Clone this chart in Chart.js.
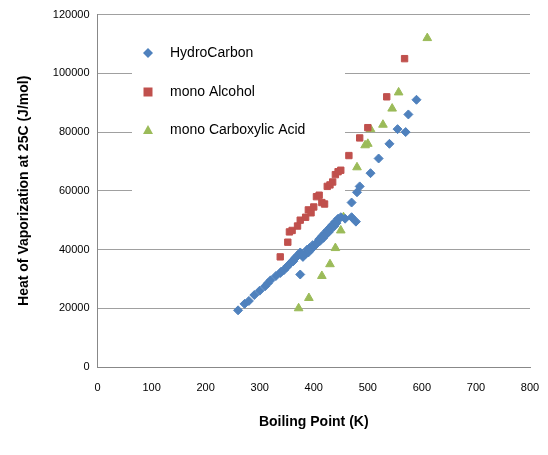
<!DOCTYPE html>
<html lang="en">
<head>
<meta charset="UTF-8">
<title>Heat of Vaporization</title>
<script src="https://cdn.jsdelivr.net/npm/chart.js@4"></script>
<style>
  body { margin: 0; background: #fff; }
  #wrap { width: 548px; height: 455px; }
</style>
</head>
<body>
<div id="wrap"><canvas id="myChart" width="548" height="455"></canvas></div>
<script>
    // boiling point (K) vs heat of vaporization (J/mol)
    const hydroBp = [260,272,280,290,300,310,315,320,330,338,345,350,355,360,365,370,375,380,385,390,395,400,403,407,410,415,420,425,430,435,440,445,450,458,470,478,375,470,480,485,505,520,540,555,570,575,590,
                     340,352,362,368,378,388,392,398,405,412,418,422,428,432,438,442];
    const hydroHv = [19300,21500,22500,24500,26000,27500,28500,29500,31000,32000,33000,34000,35000,36000,37000,38000,39000,37500,38500,39000,40000,41000,41500,42500,43500,44500,45500,46500,47500,48500,49500,50500,51000,50500,51000,49500,31500,56000,59500,61500,66000,71000,76000,81000,80000,86000,91000,
                     32500,34500,36000,37500,38500,40000,40500,41500,42000,43000,44000,45000,46000,47000,48000,49000];
    const alcBp = [338,352,355,360,370,375,385,390,395,400,405,410,415,420,425,430,435,440,445,450,465,485,500,535,568];
    const alcHv = [37500,42500,46000,46500,48000,50000,51000,53500,52500,54500,58000,58500,56000,55500,61500,62000,63000,65500,66500,67000,72000,78000,81500,92000,105000];
    const acidBp = [372,391,415,430,440,450,455,480,495,500,505,528,545,557,610];
    const acidHv = [20000,23500,31000,35000,40500,46500,51000,68000,75500,76000,81000,82500,88000,93500,112000];

    const toPts = (xs, ys) => xs.map((x, i) => ({ x: x, y: ys[i] }));

    const legendBox = {
        id: 'legendBox',
        beforeDatasetsDraw(chart) {
            const ctx = chart.ctx;
            ctx.save();
            ctx.fillStyle = '#fff';
            ctx.fillRect(132, 30, 213, 170);
            ctx.font = '14px "Liberation Sans", Arial, sans-serif';
            ctx.textBaseline = 'middle';
            const rows = [53, 92, 130];
            chart.data.datasets.forEach((ds, i) => {
                const y = rows[i];
                const x = 148;
                ctx.fillStyle = ds.backgroundColor;
                ctx.beginPath();
                if (ds.pointStyle === 'rectRot') {
                    ctx.moveTo(x, y - 5); ctx.lineTo(x + 5, y); ctx.lineTo(x, y + 5); ctx.lineTo(x - 5, y);
                } else if (ds.pointStyle === 'rect') {
                    ctx.rect(x - 4.5, y - 4.5, 9, 9);
                } else {
                    ctx.moveTo(x, y - 5); ctx.lineTo(x + 5, y + 4); ctx.lineTo(x - 5, y + 4);
                }
                ctx.closePath();
                ctx.fill();
                ctx.fillStyle = '#000';
                ctx.fillText(ds.label, 170, y);
            });
            ctx.restore();
        }
    };

    new Chart('myChart', {
        type: 'scatter',
        data: {
            datasets: [
                { label: 'HydroCarbon', data: toPts(hydroBp, hydroHv), pointStyle: 'rectRot', radius: 4.5,
                  backgroundColor: '#4F81BD', borderColor: '#4F81BD' },
                { label: 'mono Alcohol', data: toPts(alcBp, alcHv), pointStyle: 'rect', radius: 4.5,
                  backgroundColor: '#C0504D', borderColor: '#C0504D' },
                { label: 'mono Carboxylic Acid', data: toPts(acidBp, acidHv), pointStyle: 'triangle', radius: 5,
                  backgroundColor: '#9BBB59', borderColor: '#9BBB59' }
            ]
        },
        options: {
            responsive: false,
            animation: false,
            layout: { padding: { top: 2, right: 18, left: 12, bottom: 20 } },
            plugins: { legend: { display: false }, tooltip: { enabled: false } },
            scales: {
                x: {
                    min: 0, max: 800,
                    ticks: { stepSize: 100, color: '#000', padding: 6, font: { size: 11, family: '"Liberation Sans", Arial' },
                             callback: v => String(v) },
                    grid: { display: false },
                    border: { color: '#888' },
                    title: { display: true, text: 'Boiling Point (K)', color: '#000',
                             font: { size: 14, weight: 'bold', family: '"Liberation Sans", Arial' }, padding: { top: 14 } }
                },
                y: {
                    min: 0, max: 120000,
                    ticks: { stepSize: 20000, color: '#000', padding: 8, font: { size: 11, family: '"Liberation Sans", Arial' },
                             callback: v => String(v) },
                    grid: { color: '#a0a0a0', drawTicks: false },
                    border: { color: '#888' },
                    title: { display: true, text: 'Heat of Vaporization at 25C (J/mol)', color: '#000',
                             font: { size: 14, weight: 'bold', family: '"Liberation Sans", Arial' }, padding: { bottom: 12 } }
                }
            }
        },
        plugins: [legendBox]
    });
</script>
</body>
</html>
